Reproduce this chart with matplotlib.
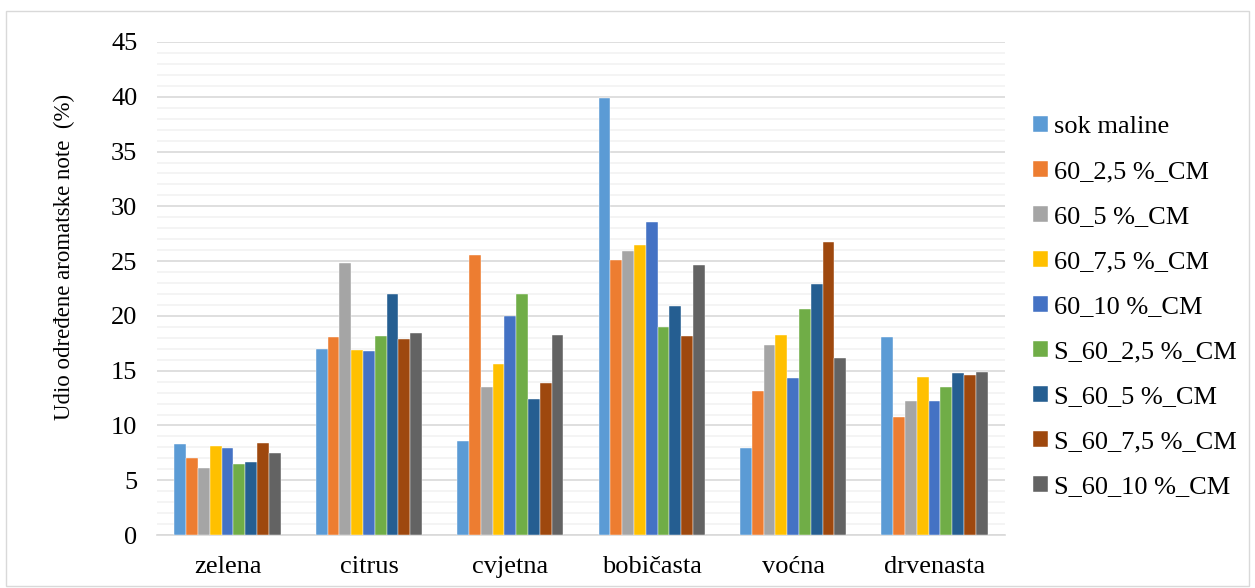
import matplotlib.pyplot as plt
import numpy as np
from matplotlib.patches import Rectangle

plt.rcParams['font.family'] = ['Liberation Serif', 'DejaVu Serif']

categories = ['zelena', 'citrus', 'cvjetna', 'bobičasta', 'voćna', 'drvenasta']
series_names = ['sok maline', '60_2,5 %_CM', '60_5 %_CM', '60_7,5 %_CM', '60_10 %_CM',
                'S_60_2,5 %_CM', 'S_60_5 %_CM', 'S_60_7,5 %_CM', 'S_60_10 %_CM']

sok_maline = [8.3, 17.0, 8.6, 39.9, 7.9, 18.1]
cm60_25 = [7.0, 18.1, 25.6, 25.1, 13.1, 10.8]
cm60_5 = [6.1, 24.8, 13.5, 25.9, 17.3, 12.2]
cm60_75 = [8.1, 16.9, 15.6, 26.5, 18.3, 14.4]
cm60_10 = [7.9, 16.8, 20.0, 28.6, 14.3, 12.2]
s60_25 = [6.5, 18.2, 22.0, 19.0, 20.6, 13.5]
s60_5 = [6.7, 22.0, 12.4, 20.9, 22.9, 14.8]
s60_75 = [8.4, 17.9, 13.9, 18.2, 26.7, 14.6]
s60_10 = [7.5, 18.4, 18.3, 24.6, 16.2, 14.9]

series = [sok_maline, cm60_25, cm60_5, cm60_75, cm60_10, s60_25, s60_5, s60_75, s60_10]
colors = ['#5B9BD5', '#ED7D31', '#A5A5A5', '#FFC000', '#4472C4',
          '#70AD47', '#255E91', '#9E480E', '#636363']

fig = plt.figure(figsize=(12.55, 5.88), dpi=100)
ax = fig.add_axes([0.125, 0.0901, 0.676, 0.8385])

# outer chart border
fig.patches.append(Rectangle((0.005, 0.004), 0.99, 0.978, transform=fig.transFigure,
                             fill=False, edgecolor='#d9d9d9', linewidth=1))

x = np.arange(len(categories))
w = 0.0835
for i, (vals, c, name) in enumerate(zip(series, colors, series_names)):
    ax.bar(x + (i - 4) * w, vals, width=w, color=c, label=name,
           edgecolor='white', linewidth=0.3, zorder=3)

ax.set_xlim(-0.5, len(categories) - 0.5)
ax.set_ylim(0, 45)
ax.set_yticks(np.arange(0, 46, 5))
ax.set_yticks(np.arange(0, 46, 1), minor=True)
ax.grid(axis='y', which='major', color='#d9d9d9', linewidth=1.2, zorder=0)
ax.grid(axis='y', which='minor', color='#f2f2f2', linewidth=1.2, zorder=0)
ax.tick_params(axis='y', which='both', length=0, labelsize=19, pad=14)
ax.tick_params(axis='x', length=0, labelsize=19, pad=15)
ax.set_xticks(x)
ax.set_xticklabels(categories)

for s in ['top', 'right', 'left']:
    ax.spines[s].set_visible(False)
ax.spines['bottom'].set_color('#d9d9d9')
ax.spines['bottom'].set_linewidth(1.2)

ax.set_ylabel('Udio određene aromatske note  (%)', fontsize=16.5)
ax.yaxis.set_label_coords(-0.097, 0.565)

ax.legend(loc='center left', bbox_to_anchor=(1.033, 0.4625), frameon=False,
          borderpad=0, borderaxespad=0,
          fontsize=19, handlelength=0.55, handleheight=0.55, handletextpad=0.25,
          labelspacing=0.86)

fig.savefig('out.png', dpi=100)
